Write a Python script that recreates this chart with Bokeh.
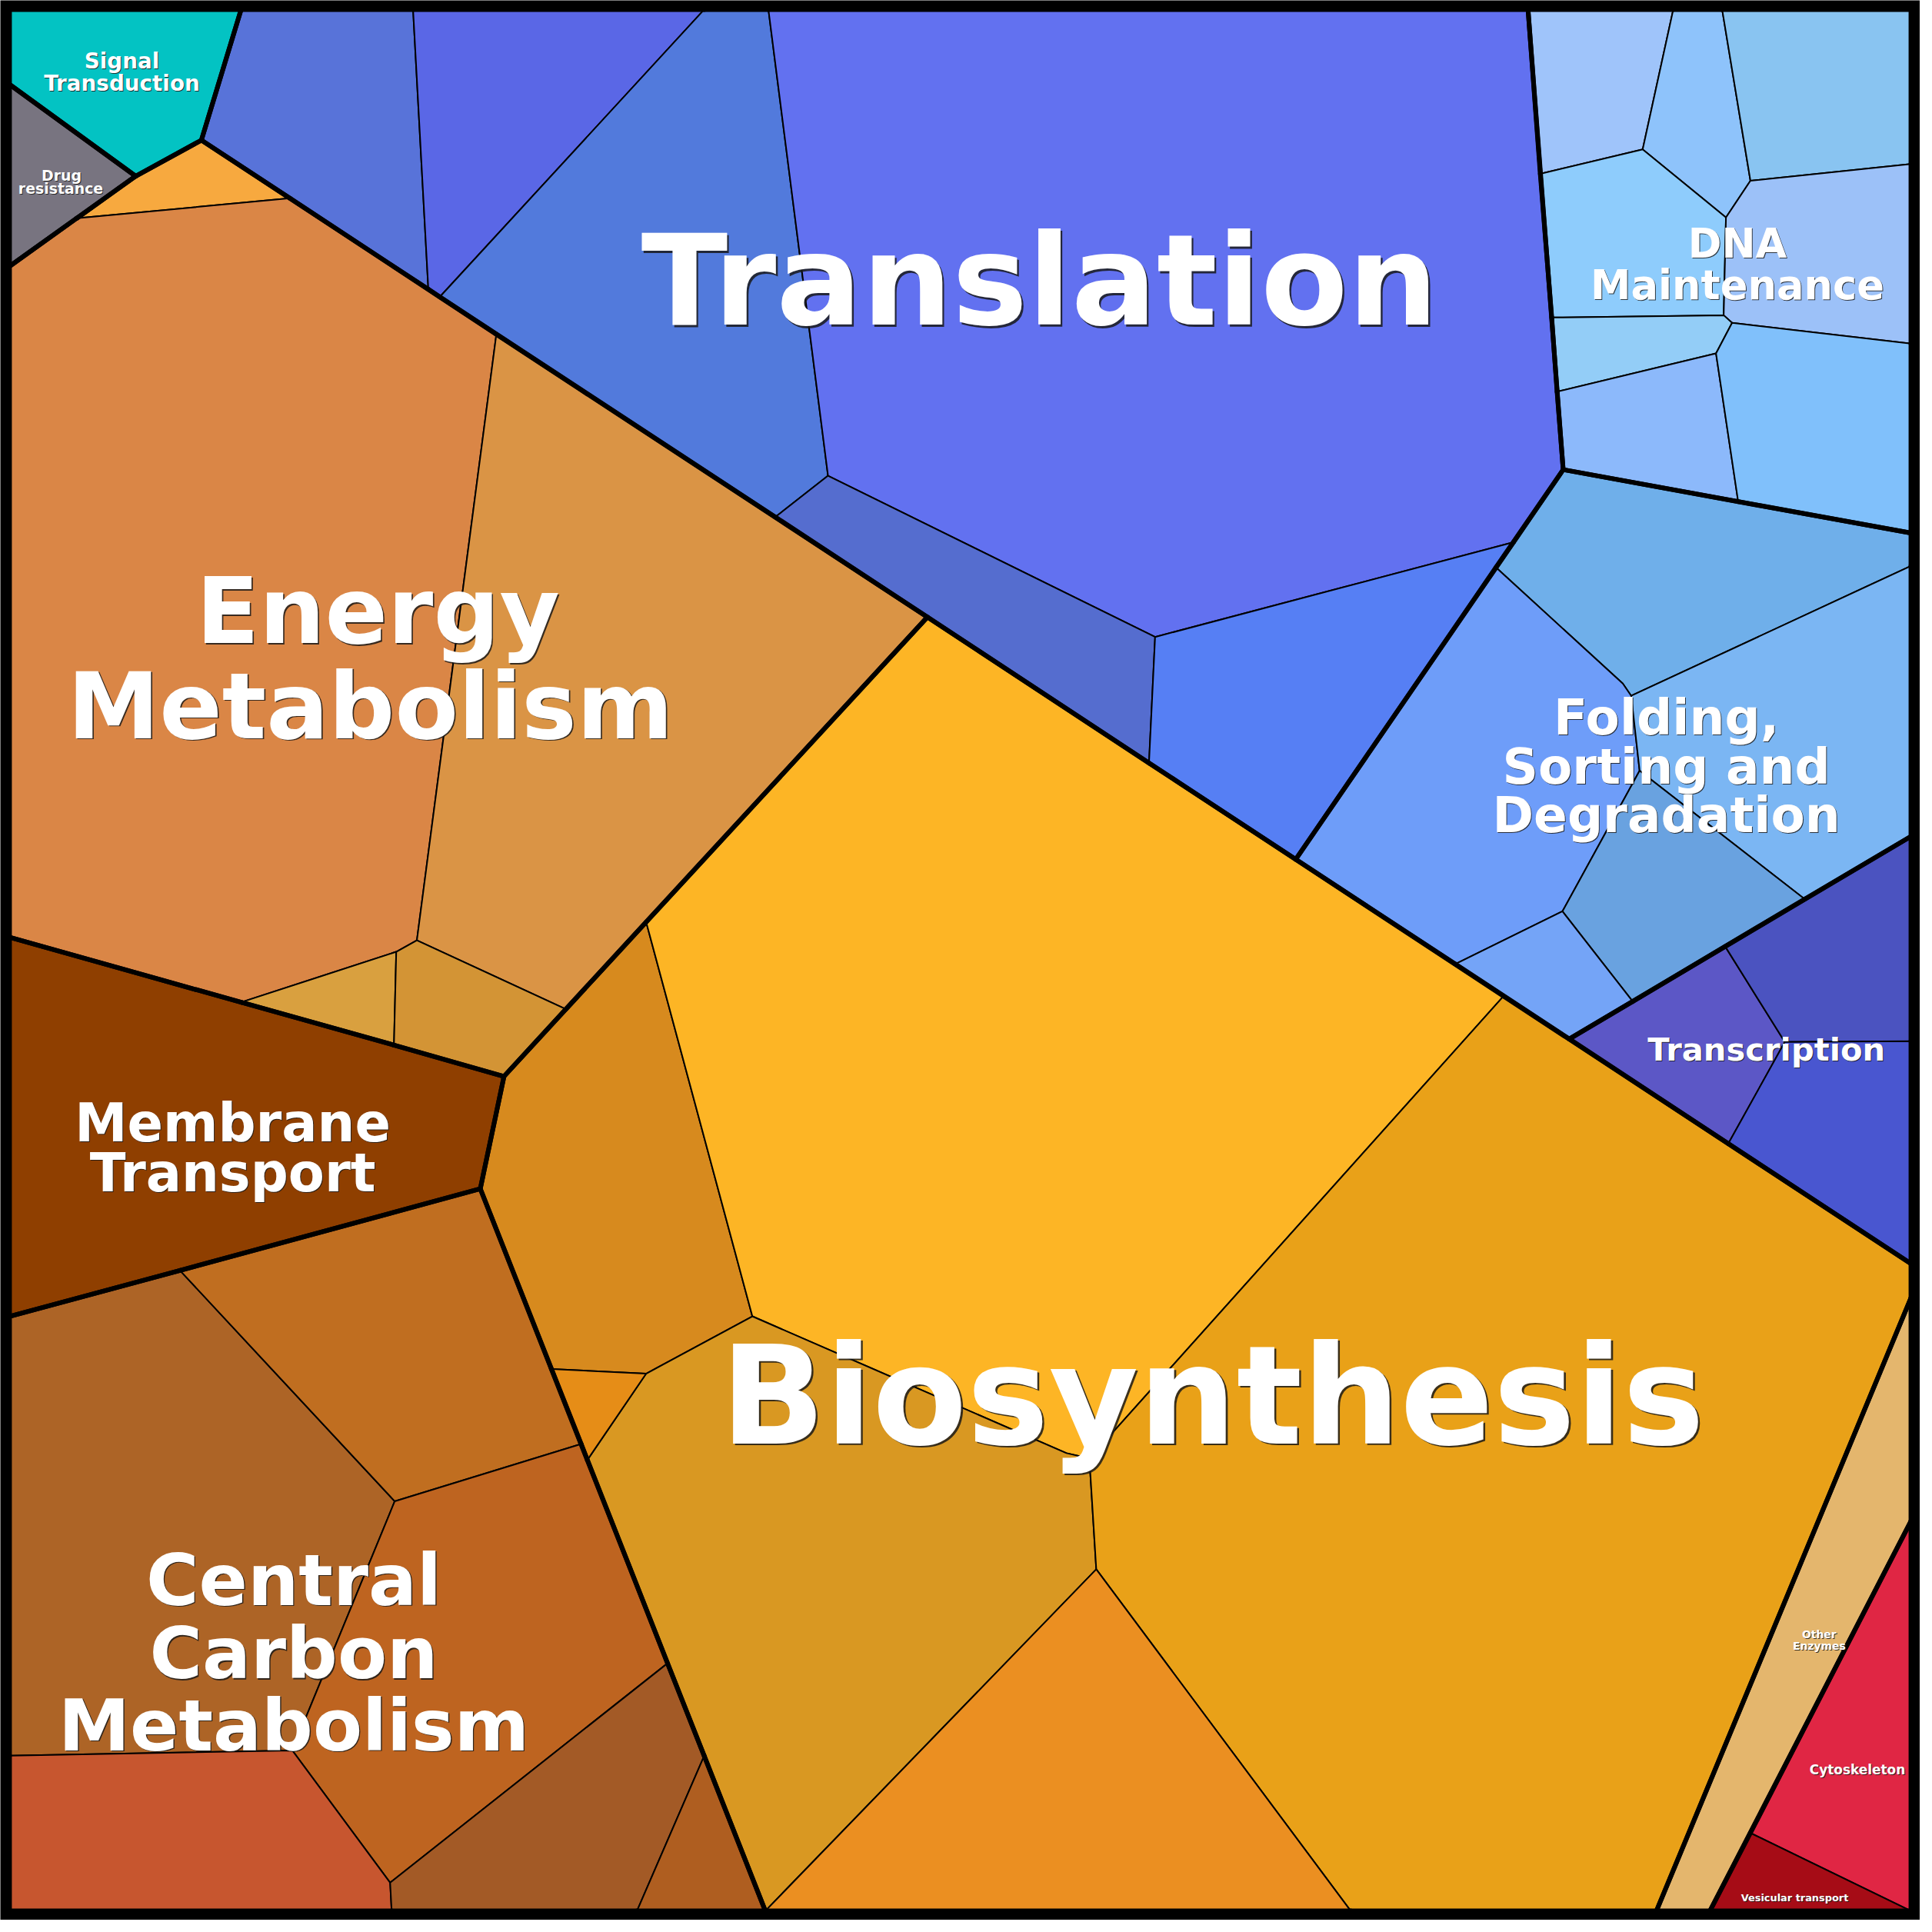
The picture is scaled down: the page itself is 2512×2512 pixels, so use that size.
from collections import Counter

from bokeh.plotting import figure
from bokeh.models import Range1d, ColumnDataSource
from bokeh.embed import file_html
from bokeh.resources import INLINE
from bokeh.core.properties import value

# ---------------- data: Voronoi cells (vertices, pixel space) ----------------
SIGNAL_CELLS = [[(12, 12), (315, 12), (263, 183), (177, 230), (12, 110)]]
SIGNAL_COLORS = ["#03C3C3"]

DRUG_CELLS = [[(12, 110), (177, 230), (100, 285), (12, 348)]]
DRUG_COLORS = ["#787480"]

TRANSLATION_CELLS = [
    [(315, 12), (540, 12), (560, 378), (263, 183)],
    [(540, 12), (921, 12), (575, 388), (560, 378)],
    [(921, 12), (1005, 12), (1083, 622), (1014, 676), (575, 388)],
    [(1005, 12), (1999, 12), (2045, 614), (1980, 709), (1511, 833), (1083, 622)],
    [(1083, 622), (1511, 833), (1503, 998), (1014, 676)],
    [(1511, 833), (1980, 709), (1695, 1124), (1503, 998)],
]
TRANSLATION_COLORS = ["#5873D9", "#5A67E6", "#527ADC", "#6271F0", "#556DCF", "#567FF4"]

DNA_CELLS = [
    [(1999, 12), (2189, 12), (2149, 195), (2015, 227)],
    [(2189, 12), (2253, 12), (2290, 236), (2258, 284), (2149, 195)],
    [(2253, 12), (2500, 12), (2500, 214), (2290, 236)],
    [(2015, 227), (2149, 195), (2258, 284), (2255, 412), (2030, 415)],
    [(2290, 236), (2500, 214), (2500, 449), (2266, 422), (2255, 412), (2258, 284)],
    [(2030, 415), (2255, 412), (2266, 422), (2245, 462), (2037, 512)],
    [(2037, 512), (2245, 462), (2274, 656), (2045, 614)],
    [(2245, 462), (2266, 422), (2500, 449), (2500, 697), (2274, 656)],
]
DNA_COLORS = ["#9FC4FA", "#8EC3FB", "#89C4F1", "#8ECCFC", "#9CC1F8", "#93CDF7", "#8CB9FB", "#80C0FB"]

FOLDING_CELLS = [
    [(1957, 742), (2045, 614), (2500, 697), (2500, 740), (2134, 910), (2123, 894)],
    [(1957, 742), (2123, 894), (2134, 910), (2145, 1008), (2044, 1192), (1904, 1261), (1695, 1124)],
    [(2134, 910), (2500, 740), (2500, 1094), (2361, 1176), (2145, 1008)],
    [(2145, 1008), (2361, 1176), (2136, 1310), (2044, 1192)],
    [(1904, 1261), (2044, 1192), (2136, 1310), (2053, 1359)],
]
FOLDING_COLORS = ["#6FAFEA", "#6E9DF9", "#7BB6F3", "#69A2E0", "#74A4F7"]

TRANSCRIPTION_CELLS = [
    [(2053, 1359), (2257, 1238), (2335, 1363), (2261, 1496)],
    [(2257, 1238), (2500, 1094), (2500, 1362), (2335, 1363)],
    [(2335, 1363), (2500, 1362), (2500, 1653), (2261, 1496)],
]
TRANSCRIPTION_COLORS = ["#5C57C6", "#4B53C0", "#4956D0"]

ENERGY_CELLS = [
    [(100, 285), (177, 230), (263, 183), (379, 259)],
    [(12, 348), (100, 285), (379, 259), (649, 437), (545, 1230), (518, 1245), (315, 1311), (12, 1226)],
    [(649, 437), (1213, 807), (740, 1320), (545, 1230)],
    [(315, 1311), (518, 1245), (515, 1367)],
    [(518, 1245), (545, 1230), (740, 1320), (659, 1408), (515, 1367)],
]
ENERGY_COLORS = ["#F7A93F", "#DA8646", "#DA9445", "#D9A03F", "#D39435"]

MEMBRANE_CELLS = [[(12, 1226), (315, 1311), (515, 1367), (659, 1408), (628, 1555), (235, 1662), (12, 1722)]]
MEMBRANE_COLORS = ["#8F3F00"]

CARBON_CELLS = [
    [(12, 1722), (235, 1662), (516, 1964), (382, 2290), (12, 2297)],
    [(235, 1662), (628, 1555), (760, 1889), (516, 1964)],
    [(516, 1964), (760, 1889), (873, 2176), (510, 2463), (382, 2290)],
    [(12, 2297), (382, 2290), (510, 2463), (512, 2500), (12, 2500)],
    [(510, 2463), (873, 2176), (921, 2297), (833, 2500), (512, 2500)],
    [(921, 2297), (1001, 2500), (833, 2500)],
]
CARBON_COLORS = ["#AD6426", "#C06E20", "#BE6420", "#C7562F", "#A35A26", "#AF5E20"]

BIOSYNTHESIS_CELLS = [
    [(659, 1408), (845, 1206), (984, 1722), (845, 1797), (721, 1791), (628, 1555)],
    [(845, 1206), (1213, 807), (1967, 1303), (1425, 1908), (1395, 1901), (984, 1722)],
    [(768, 1910), (845, 1797), (984, 1722), (1395, 1901), (1425, 1908), (1434, 2053), (1001, 2500)],
    [(1425, 1908), (1967, 1303), (2500, 1653), (2500, 1698), (2167, 2500), (1767, 2500), (1434, 2053)],
    [(721, 1791), (845, 1797), (768, 1910)],
    [(1001, 2500), (1434, 2053), (1767, 2500)],
]
BIOSYNTHESIS_COLORS = ["#D78A1E", "#FDB525", "#D99822", "#E9A118", "#E68D17", "#EB8F21"]

OTHER_CELLS = [[(2500, 1698), (2500, 1990), (2237, 2500), (2167, 2500)]]
OTHER_COLORS = ["#E4B66D"]

CELLULAR_CELLS = [
    [(2500, 1990), (2500, 2500), (2290, 2398)],
    [(2290, 2398), (2500, 2500), (2237, 2500)],
]
CELLULAR_COLORS = ["#E02644", "#A60C16"]

GROUPS = [
    (SIGNAL_CELLS, SIGNAL_COLORS), (DRUG_CELLS, DRUG_COLORS),
    (TRANSLATION_CELLS, TRANSLATION_COLORS), (DNA_CELLS, DNA_COLORS),
    (FOLDING_CELLS, FOLDING_COLORS), (TRANSCRIPTION_CELLS, TRANSCRIPTION_COLORS),
    (ENERGY_CELLS, ENERGY_COLORS), (MEMBRANE_CELLS, MEMBRANE_COLORS),
    (CARBON_CELLS, CARBON_COLORS), (BIOSYNTHESIS_CELLS, BIOSYNTHESIS_COLORS),
    (OTHER_CELLS, OTHER_COLORS), (CELLULAR_CELLS, CELLULAR_COLORS),
]

# ---------------- labels ----------------
LABEL_TEXT = ["Translation", "Biosynthesis", "Energy", "Metabolism",
              "Central", "Carbon", "Metabolism", "Membrane", "Transport",
              "Folding,", "Sorting and", "Degradation", "DNA", "Maintenance",
              "Transcription", "Signal", "Transduction", "Drug", "resistance",
              "Other", "Enzymes", "Cytoskeleton", "Vesicular transport"]

# ---------------- layout ----------------
LABEL_X = [1360, 1586, 494, 484, 384, 384, 384, 304, 304, 2180, 2180, 2180, 2273, 2273,
           2311, 159, 159, 80, 79, 2380, 2380, 2430, 2348]
LABEL_Y = [367, 1826, 799, 923, 2067, 2163, 2257, 1469, 1534, 938, 1002, 1066, 318, 372,
           1373, 80, 109, 229, 246, 2138, 2153, 2315, 2483]
LABEL_PX = [166, 180, 121, 121, 94, 94, 94, 69, 69, 65, 65, 65, 53, 53,
            42, 28, 28, 19, 19, 14, 14, 17, 13]

W = 2496
SCALE = W / 2512.0

p = figure(width=W, height=W, x_range=Range1d(0, 2512), y_range=Range1d(2512, 0),
           output_backend="svg", toolbar_location=None, min_border=0,
           x_axis_location=None, y_axis_location=None,
           background_fill_color="black", border_fill_color="black",
           outline_line_color=None)
p.grid.visible = False

xs, ys, cols = [], [], []
thick_x, thick_y = [], []
for cells, colors in GROUPS:
    edges = Counter()
    for poly, c in zip(cells, colors):
        xs.append([v[0] for v in poly])
        ys.append([v[1] for v in poly])
        cols.append(c)
        n = len(poly)
        for i in range(n):
            a, b = poly[i], poly[(i + 1) % n]
            edges[tuple(sorted([a, b]))] += 1
    for (a, b), k in edges.items():
        if k == 1:
            thick_x.append([a[0], b[0]])
            thick_y.append([a[1], b[1]])

p.patches(xs=xs, ys=ys, fill_color=cols, line_color="black", line_width=2, line_join="round")
p.multi_line(xs=thick_x, ys=thick_y, line_color="black", line_width=6, line_cap="round", line_join="round")

sizes = ["%.1fpx" % (s * SCALE) for s in LABEL_PX]
src = ColumnDataSource(dict(x=LABEL_X, y=LABEL_Y, text=LABEL_TEXT, size=sizes,
                            off=[max(1.0, s / 70.0) for s in LABEL_PX]))
p.text(x="x", y="y", text="text", source=src, text_font=value("DejaVu Sans"),
       text_font_style="bold", text_font_size="size", text_align="center",
       text_baseline="alphabetic", text_color="#1A1A1A", text_alpha=0.85,
       x_offset="off", y_offset="off")
p.text(x="x", y="y", text="text", source=src, text_font=value("DejaVu Sans"),
       text_font_style="bold", text_font_size="size", text_align="center",
       text_baseline="alphabetic", text_color="white")

open("out.html", "w").write(file_html(p, INLINE))
